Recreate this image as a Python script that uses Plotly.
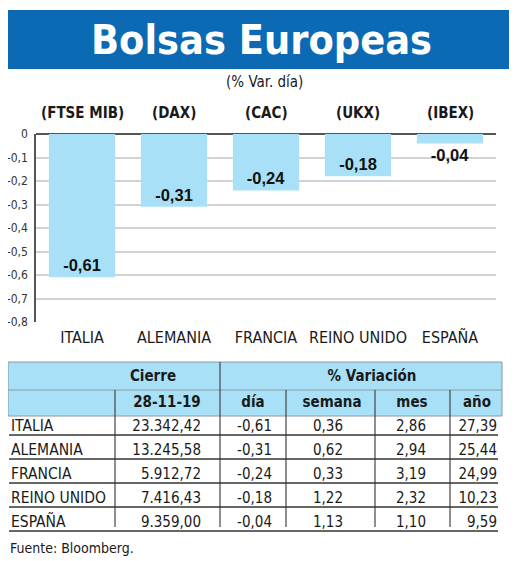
import plotly.graph_objects as go

# ---- data ----
countries = ["ITALIA", "ALEMANIA", "FRANCIA", "REINO UNIDO", "ESPAÑA"]
indices = ["(FTSE MIB)", "(DAX)", "(CAC)", "(UKX)", "(IBEX)"]
var_dia = [-0.61, -0.31, -0.24, -0.18, -0.04]
cierre = [23342.42, 13245.58, 5912.72, 7416.43, 9359.00]
var_semana = [0.36, 0.62, 0.33, 1.22, 1.13]
var_mes = [2.86, 2.94, 3.19, 2.32, 1.10]
var_anio = [27.39, 25.44, 24.99, 10.23, 9.59]
y_ticks = [0, -0.1, -0.2, -0.3, -0.4, -0.5, -0.6, -0.7, -0.8]
fecha = "28-11-19"

# page shows the figure offset by the 8px body margin
OFF = 8
W, H = 520 - OFF, 561 - OFF
NARROW = "DejaVu Sans Condensed, Roboto, sans-serif"
SANS = "Liberation Sans, Arial, sans-serif"
BLUE = "#0B6AB3"
LIGHT = "#A8E1F7"
INK = "#1a1a1a"


def es(v, thousands=False):
    s = f"{v:,.2f}" if thousands else f"{v:.2f}"
    return s.replace(",", "X").replace(".", ",").replace("X", ".")


def tick_es(v):
    if v == 0:
        return "0"
    return f"{v:.1f}".replace(".", ",")


def px(x):
    return (x - OFF) / W


def py(y):
    return 1 - (y - OFF) / H


fig = go.Figure()

# short bars get their label just below the bar end
label_pos = ["inside" if abs(v) > 0.1 else "outside" for v in var_dia]
fig.add_trace(go.Bar(
    x=countries, y=var_dia,
    marker=dict(color=LIGHT, line=dict(width=0)),
    text=[es(v) for v in var_dia],
    textposition=label_pos, insidetextanchor="end", constraintext="none",
    textfont=dict(family=SANS, size=16.5, color="#111111", weight="bold"),
    textangle=0, cliponaxis=False,
    hoverinfo="skip", showlegend=False,
))

# ---- table: text on an axis scaled to page pixels ----
row_lines = [435, 459, 483, 507, 531]
col_right = [201, 272, 343, 426, 497]
country_x = 11
cols = [[es(v, True) for v in cierre], [es(v) for v in var_dia],
        [es(v) for v in var_semana], [es(v) for v in var_mes], [es(v) for v in var_anio]]

fig.add_trace(go.Scatter(
    x=[country_x] * len(countries), y=[r - 8 for r in row_lines], text=countries,
    mode="text", textposition="middle right",
    textfont=dict(family=NARROW, size=15.5, color=INK),
    xaxis="x2", yaxis="y2", hoverinfo="skip", showlegend=False,
))
nx, ny, nt = [], [], []
for j, col in enumerate(cols):
    for i, val in enumerate(col):
        nx.append(col_right[j]); ny.append(row_lines[i] - 8); nt.append(val)
fig.add_trace(go.Scatter(
    x=nx, y=ny, text=nt, mode="text", textposition="middle left",
    textfont=dict(family=NARROW, size=15, color=INK),
    xaxis="x2", yaxis="y2", hoverinfo="skip", showlegend=False,
))

hdr1 = [("Cierre", 153), ("% Variación", 372)]
hdr2 = [(fecha, 167), ("día", 253), ("semana", 332), ("mes", 412), ("año", 477)]
fig.add_trace(go.Scatter(
    x=[h[1] for h in hdr1] + [h[1] for h in hdr2],
    y=[377] * len(hdr1) + [403] * len(hdr2),
    text=[h[0] for h in hdr1] + [h[0] for h in hdr2],
    mode="text", textposition="middle center",
    textfont=dict(family=NARROW, size=15, color=INK, weight="bold"),
    xaxis="x2", yaxis="y2", hoverinfo="skip", showlegend=False,
))

shapes = []
# banner
shapes.append(dict(type="rect", xref="paper", yref="paper", x0=px(7), x1=px(509),
                   y0=py(69), y1=py(10), fillcolor=BLUE, line=dict(width=0), layer="below"))
# table header fill
shapes.append(dict(type="rect", xref="x2", yref="y2", x0=8, x1=502, y0=362, y1=416,
                   fillcolor=LIGHT, line=dict(color="#8a9aa4", width=1), layer="below"))
shapes.append(dict(type="line", xref="x2", yref="y2", x0=8, x1=502, y0=390, y1=390,
                   line=dict(color="#8a9aa4", width=1)))
# vertical separators
for xv, y0 in [(115, 390), (220, 362), (286, 390), (375, 390), (450, 390)]:
    shapes.append(dict(type="line", xref="x2", yref="y2", x0=xv, x1=xv, y0=y0, y1=527,
                       line=dict(color="#444444", width=1.2)))
# row underlines
for yl in row_lines:
    shapes.append(dict(type="line", xref="x2", yref="y2", x0=9, x1=498, y0=yl, y1=yl,
                       line=dict(color="#333333", width=1.6)))

annotations = [
    dict(text="Bolsas Europeas", x=px(261), y=py(40), xref="paper", yref="paper",
         xanchor="center", yanchor="middle", showarrow=False,
         font=dict(family=NARROW, size=41, color="white", weight="bold")),
    dict(text="(% Var. día)", x=px(264), y=py(82), xref="paper", yref="paper",
         xanchor="center", yanchor="middle", showarrow=False,
         font=dict(family=NARROW, size=15, color=INK)),
    dict(text="Fuente: Bloomberg.", x=0, y=py(548), xref="paper", yref="paper",
         xanchor="left", yanchor="middle", showarrow=False,
         font=dict(family=NARROW, size=14, color=INK)),
]
for c, lab in zip(countries, indices):
    annotations.append(dict(text=lab, x=c, y=py(113), xref="x", yref="paper",
                            xanchor="center", yanchor="middle", showarrow=False,
                            font=dict(family=NARROW, size=15, color=INK, weight="bold")))

fig.update_layout(
    width=W, height=H, margin=dict(l=0, r=0, t=0, b=0, pad=0, autoexpand=False),
    paper_bgcolor="white", plot_bgcolor="rgba(0,0,0,0)",
    bargap=0.28,
    xaxis=dict(domain=[px(36), px(496)], showgrid=False, showline=False, ticks="",
               tickfont=dict(family=NARROW, size=16, color=INK),
               ticklabelstandoff=4, fixedrange=True),
    yaxis=dict(domain=[py(322), py(134)], range=[-0.8, 0],
               tickvals=y_ticks, ticktext=[tick_es(v) for v in y_ticks],
               showgrid=True, gridcolor="#d2d2d2", gridwidth=1.5,
               zeroline=True, zerolinecolor="#555555", zerolinewidth=2,
               showline=True, linecolor="#555555", linewidth=1.5,
               ticks="", tickfont=dict(family=NARROW, size=12, color="#333333"),
               ticklabelstandoff=4, fixedrange=True),
    xaxis2=dict(domain=[0, 1], range=[OFF, 520], visible=False, anchor="y2", fixedrange=True),
    yaxis2=dict(domain=[0, 1], range=[561, OFF], visible=False, anchor="x2", fixedrange=True),
    shapes=shapes, annotations=annotations,
)

fig.write_html("out.html")
